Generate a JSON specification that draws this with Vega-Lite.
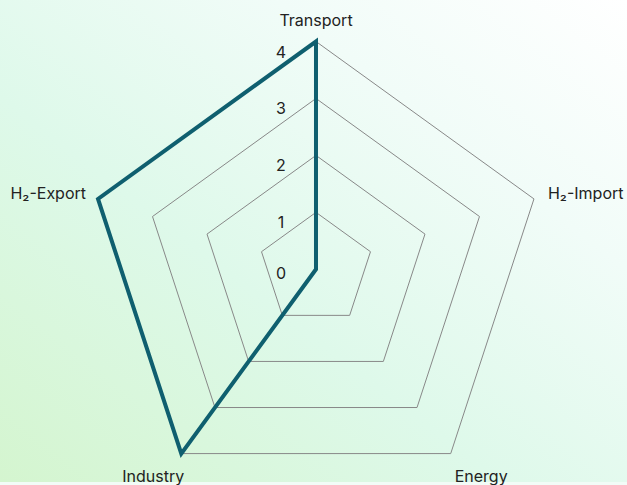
{
  "$schema": "https://vega.github.io/schema/vega-lite/v6.json",
  "width": 627,
  "height": 485,
  "autosize": {"type": "fit", "contains": "padding"},
  "padding": 0,
  "background": "#f2fcf7",
  "config": {"view": {"stroke": null}, "font": "Inter"},
  "datasets": {
    "series": [
      {"axis": "Transport", "value": 4},
      {"axis": "H₂-Import", "value": 0},
      {"axis": "Energy", "value": 0},
      {"axis": "Industry", "value": 4},
      {"axis": "H₂-Export", "value": 4}
    ],
    "grid": [
      {"level": 1, "axis": "Transport"}, {"level": 1, "axis": "H₂-Import"}, {"level": 1, "axis": "Energy"}, {"level": 1, "axis": "Industry"}, {"level": 1, "axis": "H₂-Export"},
      {"level": 2, "axis": "Transport"}, {"level": 2, "axis": "H₂-Import"}, {"level": 2, "axis": "Energy"}, {"level": 2, "axis": "Industry"}, {"level": 2, "axis": "H₂-Export"},
      {"level": 3, "axis": "Transport"}, {"level": 3, "axis": "H₂-Import"}, {"level": 3, "axis": "Energy"}, {"level": 3, "axis": "Industry"}, {"level": 3, "axis": "H₂-Export"},
      {"level": 4, "axis": "Transport"}, {"level": 4, "axis": "H₂-Import"}, {"level": 4, "axis": "Energy"}, {"level": 4, "axis": "Industry"}, {"level": 4, "axis": "H₂-Export"}
    ],
    "ticks": [
      {"level": 0}, {"level": 1}, {"level": 2}, {"level": 3}, {"level": 4}
    ]
  },
  "layer": [
    {
      "data": {"values": [{"bg": 1}]},
      "mark": {
        "type": "rect",
        "fill": {
          "gradient": "linear",
          "x1": 0, "y1": 1, "x2": 1, "y2": 0,
          "stops": [
            {"offset": 0, "color": "#d4f5cf"},
            {"offset": 0.4, "color": "#def9ea"},
            {"offset": 0.72, "color": "#f1fcf8"},
            {"offset": 1, "color": "#ffffff"}
          ]
        }
      },
      "encoding": {}
    },
    {
      "data": {"name": "grid"},
      "transform": [
        {"calculate": "indexof(['Transport','H₂-Import','Energy','Industry','H₂-Export'], datum.axis)", "as": "i"},
        {"calculate": "datum.level * sin(datum.i * 2 * PI / 5)", "as": "x"},
        {"calculate": "datum.level * cos(datum.i * 2 * PI / 5)", "as": "y"}
      ],
      "mark": {"type": "line", "interpolate": "linear-closed", "stroke": "#888888", "strokeWidth": 1},
      "encoding": {
        "x": {"field": "x", "type": "quantitative", "scale": {"domain": [-5.515, 5.428], "nice": false, "zero": false}, "axis": null},
        "y": {"field": "y", "type": "quantitative", "scale": {"domain": [-3.735, 4.729], "nice": false, "zero": false}, "axis": null},
        "detail": {"field": "level"},
        "order": {"field": "i"}
      }
    },
    {
      "data": {"name": "series"},
      "transform": [
        {"calculate": "indexof(['Transport','H₂-Import','Energy','Industry','H₂-Export'], datum.axis)", "as": "i"},
        {"calculate": "datum.value * sin(datum.i * 2 * PI / 5)", "as": "x"},
        {"calculate": "datum.value * cos(datum.i * 2 * PI / 5)", "as": "y"}
      ],
      "mark": {"type": "line", "interpolate": "linear-closed", "stroke": "#0f5f6f", "strokeWidth": 4, "strokeJoin": "miter"},
      "encoding": {
        "x": {"field": "x", "type": "quantitative"},
        "y": {"field": "y", "type": "quantitative"},
        "order": {"field": "i"}
      }
    },
    {
      "data": {"name": "ticks"},
      "transform": [{"filter": "datum.level > 0"}],
      "mark": {"type": "text", "font": "Inter", "fontSize": 16, "color": "#222222", "dx": -35, "dy": 11, "baseline": "middle", "align": "center"},
      "encoding": {
        "x": {"datum": 0, "type": "quantitative"},
        "y": {"field": "level", "type": "quantitative"},
        "text": {"field": "level", "type": "quantitative"}
      }
    },
    {
      "data": {"name": "ticks"},
      "transform": [{"filter": "datum.level == 0"}],
      "mark": {"type": "text", "font": "Inter", "fontSize": 16, "color": "#222222", "dx": -35, "dy": 5, "baseline": "middle", "align": "center"},
      "encoding": {
        "x": {"datum": 0, "type": "quantitative"},
        "y": {"field": "level", "type": "quantitative"},
        "text": {"field": "level", "type": "quantitative"}
      }
    },
    {
      "data": {"name": "series"},
      "transform": [
        {"filter": "datum.axis == 'Transport'"},
        {"calculate": "4 * sin(0)", "as": "x"},
        {"calculate": "4 * cos(0)", "as": "y"}
      ],
      "mark": {"type": "text", "font": "Inter", "fontSize": 16, "color": "#222222", "dy": -21, "baseline": "middle", "align": "center"},
      "encoding": {
        "x": {"field": "x", "type": "quantitative"},
        "y": {"field": "y", "type": "quantitative"},
        "text": {"field": "axis"}
      }
    },
    {
      "data": {"name": "series"},
      "transform": [
        {"filter": "datum.axis == 'H₂-Import'"},
        {"calculate": "4 * sin(2 * PI / 5)", "as": "x"},
        {"calculate": "4 * cos(2 * PI / 5)", "as": "y"}
      ],
      "mark": {"type": "text", "font": "Inter", "fontSize": 16, "color": "#222222", "dx": 14, "dy": -5, "baseline": "middle", "align": "left"},
      "encoding": {
        "x": {"field": "x", "type": "quantitative"},
        "y": {"field": "y", "type": "quantitative"},
        "text": {"field": "axis"}
      }
    },
    {
      "data": {"name": "series"},
      "transform": [
        {"filter": "datum.axis == 'H₂-Export'"},
        {"calculate": "4 * sin(8 * PI / 5)", "as": "x"},
        {"calculate": "4 * cos(8 * PI / 5)", "as": "y"}
      ],
      "mark": {"type": "text", "font": "Inter", "fontSize": 16, "color": "#222222", "dx": -12, "dy": -5, "baseline": "middle", "align": "right"},
      "encoding": {
        "x": {"field": "x", "type": "quantitative"},
        "y": {"field": "y", "type": "quantitative"},
        "text": {"field": "axis"}
      }
    },
    {
      "data": {"name": "series"},
      "transform": [
        {"filter": "datum.axis == 'Energy'"},
        {"calculate": "4 * sin(4 * PI / 5)", "as": "x"},
        {"calculate": "4 * cos(4 * PI / 5)", "as": "y"}
      ],
      "mark": {"type": "text", "font": "Inter", "fontSize": 16, "color": "#222222", "dx": 4, "dy": 23, "baseline": "middle", "align": "left"},
      "encoding": {
        "x": {"field": "x", "type": "quantitative"},
        "y": {"field": "y", "type": "quantitative"},
        "text": {"field": "axis"}
      }
    },
    {
      "data": {"name": "series"},
      "transform": [
        {"filter": "datum.axis == 'Industry'"},
        {"calculate": "4 * sin(6 * PI / 5)", "as": "x"},
        {"calculate": "4 * cos(6 * PI / 5)", "as": "y"}
      ],
      "mark": {"type": "text", "font": "Inter", "fontSize": 16, "color": "#222222", "dx": 3, "dy": 23, "baseline": "middle", "align": "right"},
      "encoding": {
        "x": {"field": "x", "type": "quantitative"},
        "y": {"field": "y", "type": "quantitative"},
        "text": {"field": "axis"}
      }
    }
  ]
}
